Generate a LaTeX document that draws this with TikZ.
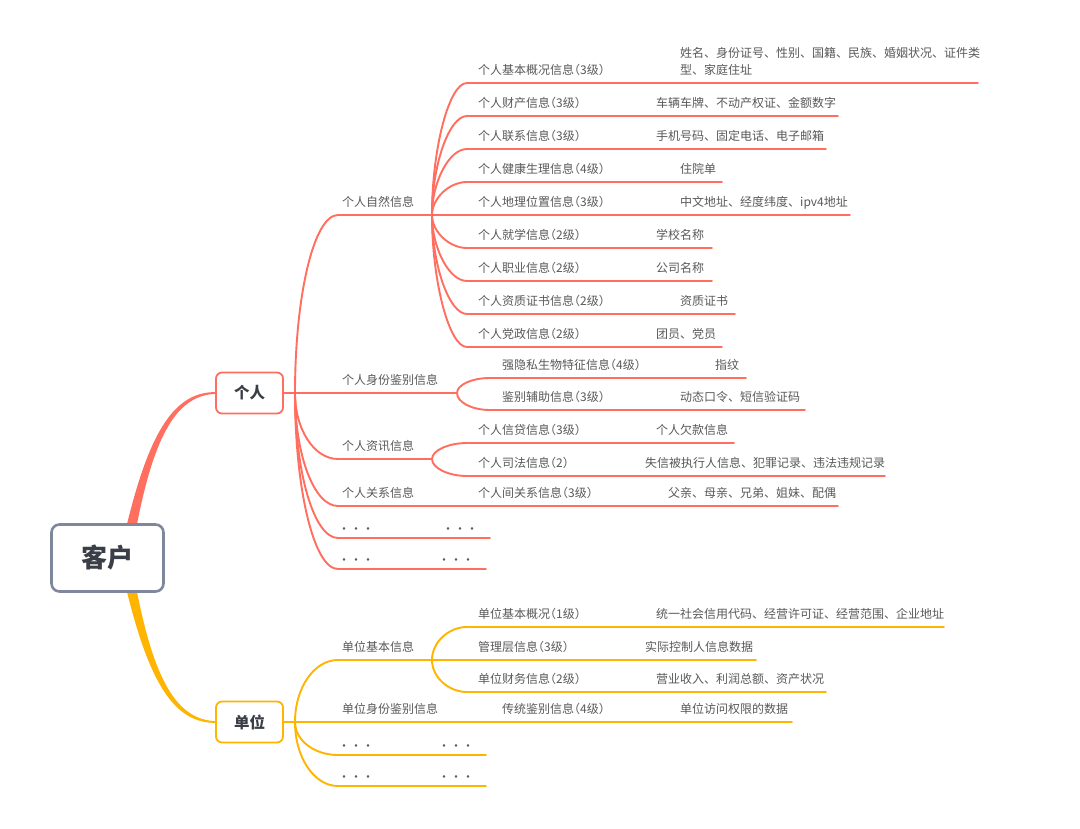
\documentclass[tikz,border=0pt]{standalone}
\usepackage{fontspec}
\setmainfont{Noto Sans CJK SC}
\usetikzlibrary{calc,backgrounds}
\definecolor{redl}{HTML}{FF6E5E}
\definecolor{orgl}{HTML}{FFB400}
\definecolor{txt}{HTML}{595959}
\definecolor{rootb}{HTML}{7E889A}
\definecolor{darktxt}{HTML}{3A3F47}
\newcommand{\lp}{{\addfontfeature{RawFeature=+halt}（}}
\newcommand{\rp}{{\addfontfeature{RawFeature=+halt}）}}
% branch curve: style, from, to (horizontal start), end, vertical factor, horizontal control
\newcommand{\brc}[6]{\draw[#1] (#2) .. controls ($(#2|-#3)!#5!(#2)$) and ($(#3)+(-#6,0)$) .. (#3) -- (#4);}
\begin{document}
\begin{tikzpicture}[x=1pt,y=-1pt,
  lbl/.style={anchor=base west,inner sep=0pt,text=txt,font=\fontsize{12}{17}\selectfont},
  rline/.style={draw=redl,line width=1.9pt,line cap=round},
  oline/.style={draw=orgl,line width=1.9pt,line cap=round},
  rootbox/.style={draw=rootb,line width=2.6pt,rounded corners=8pt,fill=white,minimum width=112pt,minimum height=67pt,inner sep=0pt,font=\fontsize{26}{30}\selectfont\bfseries,text=darktxt},
  catbox/.style={line width=1.8pt,rounded corners=6pt,fill=white,minimum width=67pt,minimum height=41pt,inner sep=0pt,font=\fontsize{15.5}{18}\selectfont\bfseries,text=darktxt},
]
\useasboundingbox (0,0) rectangle (1080,829);

% ---------- main nodes
\node[rootbox] (root) at (107.5,558) {客户};
\node[catbox,draw=redl] (gr) at (249.5,393) {个人};
\node[catbox,draw=orgl] (dw) at (249.5,722) {单位};

\begin{scope}[on background layer]
\fill[white] (0,0) rectangle (1080,829);
\fill[redl] ($(root.north)+(19.5,1)$) .. controls (150,430) and (175,392.2) .. ($(gr.west)+(0,-0.9)$)
  -- ($(gr.west)+(0,0.9)$) .. controls (178,395.5) and (155,432) .. ($(root.north)+(29.5,1)$) -- cycle;
\fill[orgl] ($(root.south)+(19.5,-1)$) .. controls (150,685) and (175,722.8) .. ($(dw.west)+(0,0.9)$)
  -- ($(dw.west)+(0,-0.9)$) .. controls (178,719.5) and (155,683) .. ($(root.south)+(29.5,-1)$) -- cycle;
\end{scope}

% ================= 个人 group
\coordinate (g1) at (295,393);
\draw[rline] (gr.east) -- (g1);

% 个人自然信息
\coordinate (q1) at (338,215); \coordinate (n1) at (432,215);
\brc{rline}{g1}{q1}{n1}{0.45}{24}
\node[lbl] (t1) at (342,206.6) {个人自然信息};

\coordinate (a1q) at (467,83);  \coordinate (a1e) at (978,83);
\coordinate (a2q) at (467,116); \coordinate (a2e) at (838,116);
\coordinate (a3q) at (467,149); \coordinate (a3e) at (826,149);
\coordinate (a4q) at (467,182); \coordinate (a4e) at (722,182);
\coordinate (a5e) at (850,215);
\coordinate (a6q) at (467,248); \coordinate (a6e) at (712,248);
\coordinate (a7q) at (467,281); \coordinate (a7e) at (712,281);
\coordinate (a8q) at (467,314); \coordinate (a8e) at (735,314);
\coordinate (a9q) at (467,347); \coordinate (a9e) at (722,347);
\brc{rline}{n1}{a1q}{a1e}{0.5}{18}
\brc{rline}{n1}{a2q}{a2e}{0.5}{18}
\brc{rline}{n1}{a3q}{a3e}{0.5}{18}
\brc{rline}{n1}{a4q}{a4e}{0.5}{18}
\draw[rline] (n1) -- (a5e);
\brc{rline}{n1}{a6q}{a6e}{0.5}{18}
\brc{rline}{n1}{a7q}{a7e}{0.5}{18}
\brc{rline}{n1}{a8q}{a8e}{0.5}{18}
\brc{rline}{n1}{a9q}{a9e}{0.5}{18}

\node[lbl] (a1) at (478,74.6) {个人基本概况信息\lp 3级\rp};
\node[lbl] (a1l) at (680,57.6) {姓名、身份证号、性别、国籍、民族、婚姻状况、证件类};
\node[lbl] (a1m) at (680,74.6) {型、家庭住址};
\node[lbl] (a2) at (478,107.6) {个人财产信息\lp 3级\rp};
\node[lbl] (a2l) at (656,107.6) {车辆车牌、不动产权证、金额数字};
\node[lbl] (a3) at (478,140.6) {个人联系信息\lp 3级\rp};
\node[lbl] (a3l) at (656,140.6) {手机号码、固定电话、电子邮箱};
\node[lbl] (a4) at (478,173.6) {个人健康生理信息\lp 4级\rp};
\node[lbl] (a4l) at (680,173.6) {住院单};
\node[lbl] (a5) at (478,206.6) {个人地理位置信息\lp 3级\rp};
\node[lbl] (a5l) at (680,206.6) {中文地址、经度纬度、ipv4地址};
\node[lbl] (a6) at (478,239.6) {个人就学信息\lp 2级\rp};
\node[lbl] (a6l) at (656,239.6) {学校名称};
\node[lbl] (a7) at (478,272.6) {个人职业信息\lp 2级\rp};
\node[lbl] (a7l) at (656,272.6) {公司名称};
\node[lbl] (a8) at (478,305.6) {个人资质证书信息\lp 2级\rp};
\node[lbl] (a8l) at (680,305.6) {资质证书};
\node[lbl] (a9) at (478,338.6) {个人党政信息\lp 2级\rp};
\node[lbl] (a9l) at (656,338.6) {团员、党员};

% 个人身份鉴别信息
\coordinate (n2) at (457,393);
\draw[rline] (g1) -- (n2);
\node[lbl] (t2) at (342,384.6) {个人身份鉴别信息};
\coordinate (b1q) at (490,378); \coordinate (b1e) at (746,378);
\coordinate (b2q) at (490,410); \coordinate (b2e) at (805,410);
\brc{rline}{n2}{b1q}{b1e}{0.45}{18}
\brc{rline}{n2}{b2q}{b2e}{0.45}{18}
\node[lbl] (b1) at (502,369.6) {强隐私生物特征信息\lp 4级\rp};
\node[lbl] (b1l) at (715,369.6) {指纹};
\node[lbl] (b2) at (502,401.6) {鉴别辅助信息\lp 3级\rp};
\node[lbl] (b2l) at (680,401.6) {动态口令、短信验证码};

% 个人资讯信息
\coordinate (q3) at (338,459); \coordinate (n3) at (432,459);
\brc{rline}{g1}{q3}{n3}{0.45}{24}
\node[lbl] (t3) at (342,450.6) {个人资讯信息};
\coordinate (c1q) at (467,443); \coordinate (c1e) at (734,443);
\coordinate (c2q) at (467,476); \coordinate (c2e) at (885,476);
\brc{rline}{n3}{c1q}{c1e}{0.45}{18}
\brc{rline}{n3}{c2q}{c2e}{0.45}{18}
\node[lbl] (c1) at (478,434.6) {个人信贷信息\lp 3级\rp};
\node[lbl] (c1l) at (656,434.6) {个人欠款信息};
\node[lbl] (c2) at (478,467.6) {个人司法信息\lp 2\rp};
\node[lbl] (c2l) at (645,467.6) {失信被执行人信息、犯罪记录、违法违规记录};

% 个人关系信息
\coordinate (q4) at (338,506); \coordinate (e4) at (838,506);
\brc{rline}{g1}{q4}{e4}{0.45}{24}
\node[lbl] (t4) at (342,497.6) {个人关系信息};
\node[lbl] (t4b) at (478,497.6) {个人间关系信息\lp 3级\rp};
\node[lbl] (t4l) at (668,497.6) {父亲、母亲、兄弟、姐妹、配偶};

% dots
\coordinate (q5) at (338,538); \coordinate (e5) at (490,538);
\brc{rline}{g1}{q5}{e5}{0.45}{24}
\node[lbl] (t5) at (338,533.6) {・・・};
\node[lbl] (t5b) at (442,533.6) {・・・};
\coordinate (q6) at (338,569); \coordinate (e6) at (486,569);
\brc{rline}{g1}{q6}{e6}{0.45}{24}
\node[lbl] (t6) at (338,564.6) {・・・};
\node[lbl] (t6b) at (438,564.6) {・・・};

% ================= 单位 group
\coordinate (g2) at (295,722);
\draw[oline] (dw.east) -- (g2);

% 单位基本信息
\coordinate (r1) at (338,660); \coordinate (m1) at (432,660);
\brc{oline}{g2}{r1}{m1}{0.45}{24}
\node[lbl] (u1) at (342,651.6) {单位基本信息};
\coordinate (d1q) at (467,627); \coordinate (d1e) at (944,627);
\coordinate (d2e) at (756,660);
\coordinate (d3q) at (467,692); \coordinate (d3e) at (826,692);
\brc{oline}{m1}{d1q}{d1e}{0.45}{18}
\draw[oline] (m1) -- (d2e);
\brc{oline}{m1}{d3q}{d3e}{0.45}{18}
\node[lbl] (d1) at (478,618.6) {单位基本概况\lp 1级\rp};
\node[lbl] (d1l) at (656,618.6) {统一社会信用代码、经营许可证、经营范围、企业地址};
\node[lbl] (d2) at (478,651.6) {管理层信息\lp 3级\rp};
\node[lbl] (d2l) at (645,651.6) {实际控制人信息数据};
\node[lbl] (d3) at (478,683.6) {单位财务信息\lp 2级\rp};
\node[lbl] (d3l) at (656,683.6) {营业收入、利润总额、资产状况};

% 单位身份鉴别信息
\coordinate (e7) at (792,722);
\draw[oline] (g2) -- (e7);
\node[lbl] (u2) at (342,713.6) {单位身份鉴别信息};
\node[lbl] (u2b) at (502,713.6) {传统鉴别信息\lp 4级\rp};
\node[lbl] (u2l) at (680,713.6) {单位访问权限的数据};

% dots
\coordinate (r3) at (338,755); \coordinate (e8) at (486,755);
\brc{oline}{g2}{r3}{e8}{0.45}{24}
\node[lbl] (u3) at (338,750.6) {・・・};
\node[lbl] (u3b) at (438,750.6) {・・・};
\coordinate (r4) at (338,786); \coordinate (e9) at (486,786);
\brc{oline}{g2}{r4}{e9}{0.45}{24}
\node[lbl] (u4) at (338,781.6) {・・・};
\node[lbl] (u4b) at (438,781.6) {・・・};
\end{tikzpicture}
\end{document}
